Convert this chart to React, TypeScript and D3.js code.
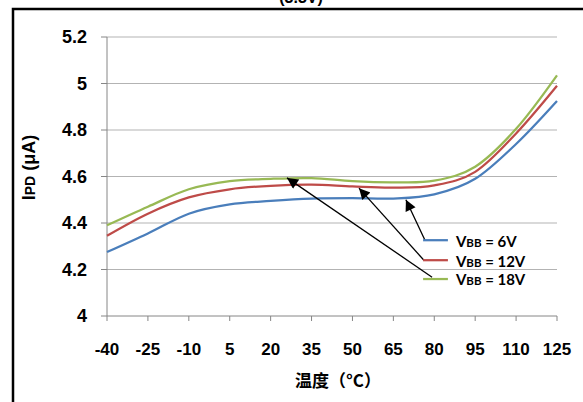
import React, { useRef, useEffect } from "react";
import { select, scaleLinear, line, curveCatmullRom } from "d3";

// temperatures (°C) on the category axis
const temps = [-40, -25, -10, 5, 20, 35, 50, 65, 80, 95, 110, 125];
const yTicks = [4, 4.2, 4.4, 4.6, 4.8, 5, 5.2];

// IPD (µA) per supply voltage
const vbb6 = [4.275, 4.355, 4.44, 4.48, 4.495, 4.505, 4.507, 4.505, 4.523, 4.59, 4.74, 4.925];
const vbb12 = [4.345, 4.44, 4.51, 4.545, 4.56, 4.565, 4.557, 4.552, 4.562, 4.62, 4.785, 4.99];
const vbb18 = [4.39, 4.47, 4.545, 4.58, 4.59, 4.593, 4.58, 4.575, 4.582, 4.642, 4.805, 5.035];

const seriesNames = ["6V", "12V", "18V"];
const seriesColors = ["#4a7ebb", "#be4b48", "#98b954"];

// legend rows and arrow annotations, in data units (temp, value)
const legendTemps = [75.9, 85];
const legendValues = [4.326, 4.24, 4.159];
const arrowTips = [[69.6, 4.5], [52.4, 4.55], [26, 4.594]];
const arrowTails = [[76.6, 4.326], [76.2, 4.24], [79.2, 4.167]];

function App() {
  const svgRef = useRef(null);
  const W = 583, H = 402;
  const left = 107, right = 557, top = 37, bottom = 316;

  useEffect(() => {
    const svg = select(svgRef.current);
    svg.selectAll("*").remove();

    const x = scaleLinear().domain([temps[0], temps[temps.length - 1]]).range([left, right]);
    const y = scaleLinear().domain([4, 5.2]).range([bottom, top]);

    svg.append("defs").append("marker")
      .attr("id", "arrowhead")
      .attr("viewBox", "0 0 10 10")
      .attr("refX", 10).attr("refY", 5)
      .attr("markerWidth", 14).attr("markerHeight", 11)
      .attr("markerUnits", "userSpaceOnUse")
      .attr("orient", "auto")
      .append("path").attr("d", "M0,0 L10,5 L0,10 z").attr("fill", "#000");

    // outer frame
    svg.append("rect")
      .attr("x", 13).attr("y", 9).attr("width", 620).attr("height", 450)
      .attr("fill", "none").attr("stroke", "#000").attr("stroke-width", 2.5);

    // title, cut by the top edge as in the original
    svg.append("text")
      .attr("x", 301).attr("y", 3)
      .attr("text-anchor", "middle")
      .style("font-family", "Liberation Sans, Arial, sans-serif")
      .style("font-weight", "bold").style("font-size", "16px")
      .text("(3.3V)");

    // gridlines
    svg.append("g").selectAll("line")
      .data(yTicks.slice(1))
      .join("line")
      .attr("x1", left).attr("x2", right)
      .attr("y1", d => y(d)).attr("y2", d => y(d))
      .attr("stroke", "#b3b3b3").attr("stroke-width", 1);

    // axes
    const axisColor = "#868686";
    svg.append("line").attr("x1", left).attr("x2", left).attr("y1", top).attr("y2", bottom)
      .attr("stroke", axisColor);
    svg.append("line").attr("x1", left).attr("x2", right).attr("y1", bottom).attr("y2", bottom)
      .attr("stroke", axisColor);
    svg.append("g").selectAll("line")
      .data(yTicks)
      .join("line")
      .attr("x1", left - 6).attr("x2", left)
      .attr("y1", d => y(d)).attr("y2", d => y(d))
      .attr("stroke", axisColor);
    svg.append("g").selectAll("line")
      .data(temps)
      .join("line")
      .attr("x1", d => x(d)).attr("x2", d => x(d))
      .attr("y1", bottom).attr("y2", bottom + 5)
      .attr("stroke", axisColor);

    const labelFont = "Liberation Sans, Arial, sans-serif";
    svg.append("g").selectAll("text")
      .data(yTicks)
      .join("text")
      .attr("x", 87).attr("y", d => y(d))
      .attr("dy", "0.36em")
      .attr("text-anchor", "end")
      .style("font-family", labelFont).style("font-weight", "bold").style("font-size", "18px")
      .text(d => String(d));
    svg.append("g").selectAll("text")
      .data(temps)
      .join("text")
      .attr("x", d => x(d)).attr("y", 355)
      .attr("text-anchor", "middle")
      .style("font-family", labelFont).style("font-weight", "bold").style("font-size", "17px")
      .text(d => String(d));

    svg.append("text")
      .attr("x", 338).attr("y", 387)
      .attr("text-anchor", "middle")
      .style("font-family", "Noto Sans CJK SC, sans-serif")
      .style("font-weight", "bold").style("font-size", "17px")
      .text("温度（°C）");

    const yTitle = svg.append("text")
      .attr("transform", `translate(35,${(top + bottom) / 2 - 9}) rotate(-90)`)
      .attr("text-anchor", "middle")
      .style("font-family", labelFont).style("font-weight", "bold").style("font-size", "18px");
    yTitle.append("tspan").text("I");
    yTitle.append("tspan").style("font-size", "14px").text("PD");
    yTitle.append("tspan").text(" (μA)");

    // series
    const allSeries = [vbb6, vbb12, vbb18];
    const myLine = line<number>()
      .x((d, i) => x(temps[i]))
      .y(d => y(d))
      .curve(curveCatmullRom.alpha(0));
    svg.append("g").selectAll("path")
      .data(allSeries)
      .join("path")
      .attr("d", d => myLine(d))
      .attr("fill", "none")
      .attr("stroke", (d, i) => seriesColors[i])
      .attr("stroke-width", 2.25);

    // arrows
    svg.append("g").selectAll("line")
      .data(arrowTips)
      .join("line")
      .attr("x1", (d, i) => x(arrowTails[i][0])).attr("y1", (d, i) => y(arrowTails[i][1]))
      .attr("x2", d => x(d[0])).attr("y2", d => y(d[1]))
      .attr("stroke", "#000").attr("stroke-width", 1.3)
      .attr("marker-end", "url(#arrowhead)");

    // legend
    const leg = svg.append("g").selectAll("g")
      .data(seriesNames)
      .join("g");
    leg.append("line")
      .attr("x1", x(legendTemps[0])).attr("x2", x(legendTemps[1]))
      .attr("y1", (d, i) => y(legendValues[i])).attr("y2", (d, i) => y(legendValues[i]))
      .attr("stroke", (d, i) => seriesColors[i]).attr("stroke-width", 2.25);
    const lt = leg.append("text")
      .attr("x", x(legendTemps[1]) + 8).attr("y", (d, i) => y(legendValues[i]))
      .attr("dy", "0.42em")
      .style("font-family", "Lato, Open Sans, sans-serif")
      .style("font-weight", "bold").style("font-size", "15px");
    lt.append("tspan").text("V");
    lt.append("tspan").style("font-size", "11.5px").text("BB");
    lt.append("tspan").text(d => ` = ${d}`);
  }, []);

  return (
    <svg ref={svgRef} width={W} height={H}
      style={{ position: "absolute", left: 0, top: 0, background: "#fff" }} />
  );
}

export default App;
